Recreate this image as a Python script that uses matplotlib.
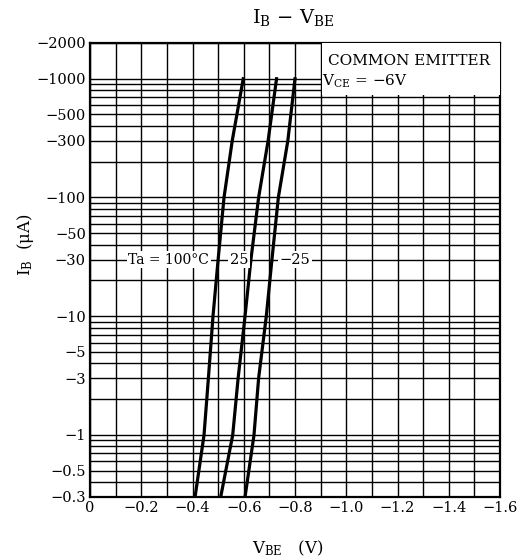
import matplotlib
matplotlib.use("Agg")
import matplotlib.pyplot as plt
from matplotlib.patches import Rectangle
from matplotlib.ticker import FixedLocator, NullFormatter

plt.rcParams['font.family'] = ['DejaVu Serif']
plt.rcParams['mathtext.fontset'] = 'dejavuserif'

# ---- data (IB magnitude in uA; VBE in V, negative as in the datasheet) ----
ib_points = [0.3, 1, 3, 10, 30, 100, 300, 1000]
vbe_100c = [-0.41, -0.445, -0.462, -0.48, -0.50, -0.523, -0.555, -0.598]
vbe_25c = [-0.51, -0.557, -0.578, -0.605, -0.628, -0.658, -0.695, -0.728]
vbe_m25c = [-0.605, -0.64, -0.658, -0.688, -0.71, -0.735, -0.772, -0.80]

y_ticks = [0.3, 0.5, 1, 3, 5, 10, 30, 50, 100, 300, 500, 1000, 2000]
y_tick_labels = ["−0.3", "−0.5", "−1", "−3", "−5", "−10", "−30", "−50",
                 "−100", "−300", "−500", "−1000", "−2000"]
x_ticks = [0, -0.2, -0.4, -0.6, -0.8, -1.0, -1.2, -1.4, -1.6]
x_tick_labels = ["0", "−0.2", "−0.4", "−0.6", "−0.8", "−1.0", "−1.2", "−1.4", "−1.6"]

fig = plt.figure(figsize=(5.23, 5.60), dpi=100)
ax = fig.add_axes([90/523, 1-497/560, 410/523, 454/560])

ax.set_yscale('log')
ax.set_ylim(0.3, 2000)
ax.set_xlim(0, -1.6)

# grid
minor_y = []
for e in range(-1, 4):
    for m in range(1, 10):
        v = round(m * 10.0 ** e, 6)
        if 0.3 <= v <= 2000:
            minor_y.append(v)
ax.yaxis.set_major_locator(FixedLocator(y_ticks))
ax.yaxis.set_minor_locator(FixedLocator(minor_y))
ax.yaxis.set_minor_formatter(NullFormatter())
ax.set_yticklabels(y_tick_labels)
ax.xaxis.set_major_locator(FixedLocator(x_ticks))
ax.xaxis.set_minor_locator(FixedLocator([-i/10 for i in range(17)]))
ax.set_xticklabels(x_tick_labels)
ax.grid(True, which='both', color='black', linewidth=1.0)
ax.tick_params(which='both', length=0, labelsize=10.5, pad=3)
for s in ax.spines.values():
    s.set_linewidth(1.6)

for v in (vbe_100c, vbe_25c, vbe_m25c):
    ax.plot(v, ib_points, color='black', linewidth=2.3, zorder=3)

# legend box
ax.add_patch(Rectangle((0.566, 0.885), 0.434, 0.115, transform=ax.transAxes,
                       facecolor='white', edgecolor='none', zorder=4))
ax.text(0.58, 0.96, "COMMON EMITTER", transform=ax.transAxes, fontsize=11,
        va='center', ha='left', zorder=5)
ax.text(0.566, 0.915, r"$\mathrm{V_{CE}}$ = −6V", transform=ax.transAxes, fontsize=11,
        va='center', ha='left', zorder=5)

bb = dict(facecolor='white', edgecolor='none', pad=1)
ax.text(-0.15, 30, "Ta = 100°C", fontsize=10, va='center', ha='left', bbox=bb, zorder=5)
ax.text(-0.582, 30, "25", fontsize=10.5, va='center', ha='center', bbox=bb, zorder=5)
ax.text(-0.80, 30, "−25", fontsize=10.5, va='center', ha='center', bbox=bb, zorder=5)

fig.text(0.56, 1-18/560, r"$\mathrm{I_B}$ − $\mathrm{V_{BE}}$", fontsize=14,
         ha='center', va='center')
fig.text(288/523, 1-548/560, r"$\mathrm{V_{BE}}$   (V)", fontsize=12,
         ha='center', va='center')
fig.text(25/523, 1-245/560, r"$\mathrm{I_B}$  (μA)", fontsize=12, rotation=90,
         ha='center', va='center')

fig.savefig("out.png", dpi=100)
